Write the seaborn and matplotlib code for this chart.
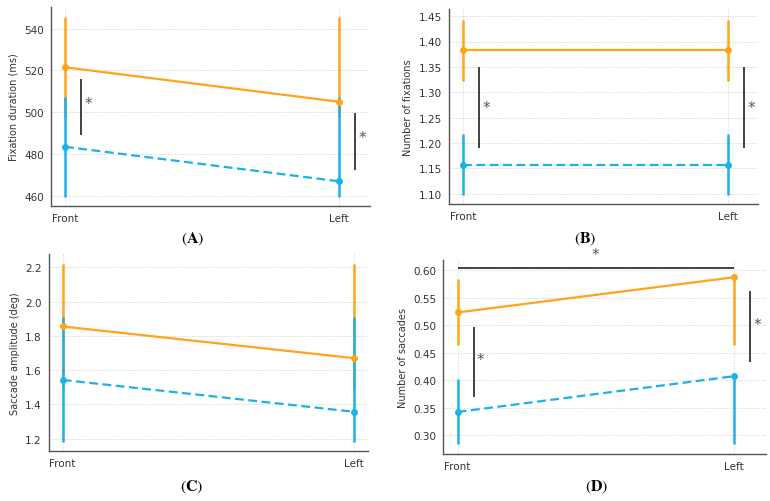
import numpy as np
import pandas as pd
import matplotlib
matplotlib.use("Agg")
import matplotlib.pyplot as plt
import seaborn as sns

# conditions on the x axis
conditions = ["Front", "Left"]
groups = ["Group 1", "Group 2"]  # orange (solid), blue (dashed)

# (A) fixation duration (ms)
fix_dur_g1 = [521.5, 505.0]
fix_dur_g1_lo = [497.5, 497.5]
fix_dur_g1_hi = [545.5, 545.5]
fix_dur_g2 = [483.5, 467.0]
fix_dur_g2_lo = [459.5, 459.5]
fix_dur_g2_hi = [507.5, 507.5]

# (B) number of fixations
fix_num_g1 = [1.383, 1.383]
fix_num_g1_lo = [1.323, 1.323]
fix_num_g1_hi = [1.443, 1.443]
fix_num_g2 = [1.157, 1.157]
fix_num_g2_lo = [1.097, 1.097]
fix_num_g2_hi = [1.217, 1.217]

# (C) saccade amplitude (deg)
sac_amp_g1 = [1.855, 1.670]
sac_amp_g1_lo = [1.49, 1.49]
sac_amp_g1_hi = [2.22, 2.22]
sac_amp_g2 = [1.543, 1.357]
sac_amp_g2_lo = [1.178, 1.178]
sac_amp_g2_hi = [1.910, 1.910]

# (D) number of saccades
sac_num_g1 = [0.523, 0.587]
sac_num_g1_lo = [0.464, 0.464]
sac_num_g1_hi = [0.583, 0.583]
sac_num_g2 = [0.342, 0.407]
sac_num_g2_lo = [0.283, 0.283]
sac_num_g2_hi = [0.402, 0.402]

ORANGE = "#FFA51A"
BLUE = "#1BB3E6"

sns.set_theme(style="whitegrid")
plt.rcParams["font.family"] = ["DejaVu Sans"]
plt.rcParams["mathtext.fontset"] = "stix"

fig = plt.figure(figsize=(7.7, 5.02), dpi=100)
W, H = 770, 502


def make_ax(left, top, right, bottom):
    return fig.add_axes([left / W, 1 - bottom / H, (right - left) / W, (bottom - top) / H])


panels = [
    dict(box=(51, 8, 370, 207), xlim=(-0.051, 1.113), ylim=(455.2, 550.3),
         yticks=[460, 480, 500, 520, 540], fmt="{:.0f}", ylabel="Fixation duration (ms)",
         g1=(fix_dur_g1, fix_dur_g1_lo, fix_dur_g1_hi), g2=(fix_dur_g2, fix_dur_g2_lo, fix_dur_g2_hi),
         sig=[(0.058, 489.2, 515.9, 0.084, 504.0), (1.058, 472.4, 499.6, 1.084, 487.7)],
         label="A", label_xy=(193, 239)),
    dict(box=(449, 10, 758, 205), xlim=(-0.053, 1.113), ylim=(1.08, 1.464),
         yticks=[1.10, 1.15, 1.20, 1.25, 1.30, 1.35, 1.40, 1.45], fmt="{:.2f}", ylabel="Number of fixations",
         g1=(fix_num_g1, fix_num_g1_lo, fix_num_g1_hi), g2=(fix_num_g2, fix_num_g2_lo, fix_num_g2_hi),
         sig=[(0.0615, 1.19, 1.35, 0.087, 1.27), (1.06, 1.19, 1.35, 1.087, 1.27)],
         label="B", label_xy=(585, 239)),
    dict(box=(48.7, 255, 368, 452), xlim=(-0.048, 1.048), ylim=(1.128, 2.278),
         yticks=[1.2, 1.4, 1.6, 1.8, 2.0, 2.2], fmt="{:.1f}", ylabel="Saccade amplitude (deg)",
         g1=(sac_amp_g1, sac_amp_g1_lo, sac_amp_g1_hi), g2=(sac_amp_g2, sac_amp_g2_lo, sac_amp_g2_hi),
         sig=[], label="C", label_xy=(192, 487)),
    dict(box=(443.3, 260.7, 765.7, 454.7), xlim=(-0.052, 1.115), ylim=(0.266, 0.619),
         yticks=[0.30, 0.35, 0.40, 0.45, 0.50, 0.55, 0.60], fmt="{:.2f}", ylabel="Number of saccades",
         g1=(sac_num_g1, sac_num_g1_lo, sac_num_g1_hi), g2=(sac_num_g2, sac_num_g2_lo, sac_num_g2_hi),
         sig=[(0.059, 0.370, 0.497, 0.084, 0.438), (1.059, 0.4335, 0.562, 1.084, 0.502)],
         top_sig=(0.604, 0.5, 0.628),
         label="D", label_xy=(597, 487)),
]

x = np.arange(len(conditions))

for p in panels:
    ax = make_ax(*p["box"])
    rows = []
    for g, (mean, lo, hi) in zip(groups, [p["g1"], p["g2"]]):
        for c, m in zip(conditions, mean):
            rows.append({"pos": conditions.index(c), "group": g, "value": m})
    df = pd.DataFrame(rows)

    # error ranges first, then both lines on top
    for g, (mean, lo, hi), col, z in zip(groups, [p["g1"], p["g2"]], [ORANGE, BLUE], [2, 2.5]):
        ax.vlines(x, lo, hi, color=col, lw=1.8, zorder=z)

    for g, col, dash, z in zip(groups, [ORANGE, BLUE], ["", (4, 2)], [3, 4]):
        sub = df[df["group"] == g]
        sns.lineplot(data=sub, x="pos", y="value", ax=ax, color=col, lw=1.6,
                     marker="o", markersize=5, markeredgewidth=0, zorder=z)
        if dash:
            ax.lines[-1].set_dashes(dash)

    for (xb, y0, y1, xs, ys) in p["sig"]:
        ax.vlines(xb, y0, y1, color="#333333", lw=1.3, zorder=6)
        ax.text(xs, ys, "*", ha="center", va="center", fontsize=11, color="#555555")
    if "top_sig" in p:
        yl, xs, ys = p["top_sig"]
        ax.hlines(yl, x[0], x[-1], color="#333333", lw=1.3, zorder=6, clip_on=False)
        ax.text(xs, ys, "*", ha="center", va="center", fontsize=11, color="#555555", clip_on=False)

    ax.set_xlim(*p["xlim"])
    ax.set_ylim(*p["ylim"])
    ax.set_xticks(x)
    ax.set_xticklabels(conditions)
    ax.set_yticks(p["yticks"])
    ax.set_yticklabels([p["fmt"].format(v) for v in p["yticks"]])
    ax.set_xlabel("")
    ax.set_ylabel(p["ylabel"], fontsize=7, color="#333333", labelpad=4)
    ax.tick_params(axis="both", labelsize=7.5, colors="#333333", length=3, width=0.8,
                   color="#999999", pad=2)
    ax.set_facecolor("white")
    ax.grid(True, color="#d9d9d9", linestyle=(0, (1.5, 1.5)), lw=0.7)
    for side in ["top", "right"]:
        ax.spines[side].set_visible(False)
    for side in ["left", "bottom"]:
        ax.spines[side].set_color("#555555")
        ax.spines[side].set_linewidth(1.0)

    lx, ly = p["label_xy"]
    fig.text(lx / W, 1 - ly / H, r"$(\mathbf{%s})$" % p["label"], ha="center", va="center",
             fontsize=11.5, color="black")

fig.savefig("out.png", dpi=100, facecolor="white")
